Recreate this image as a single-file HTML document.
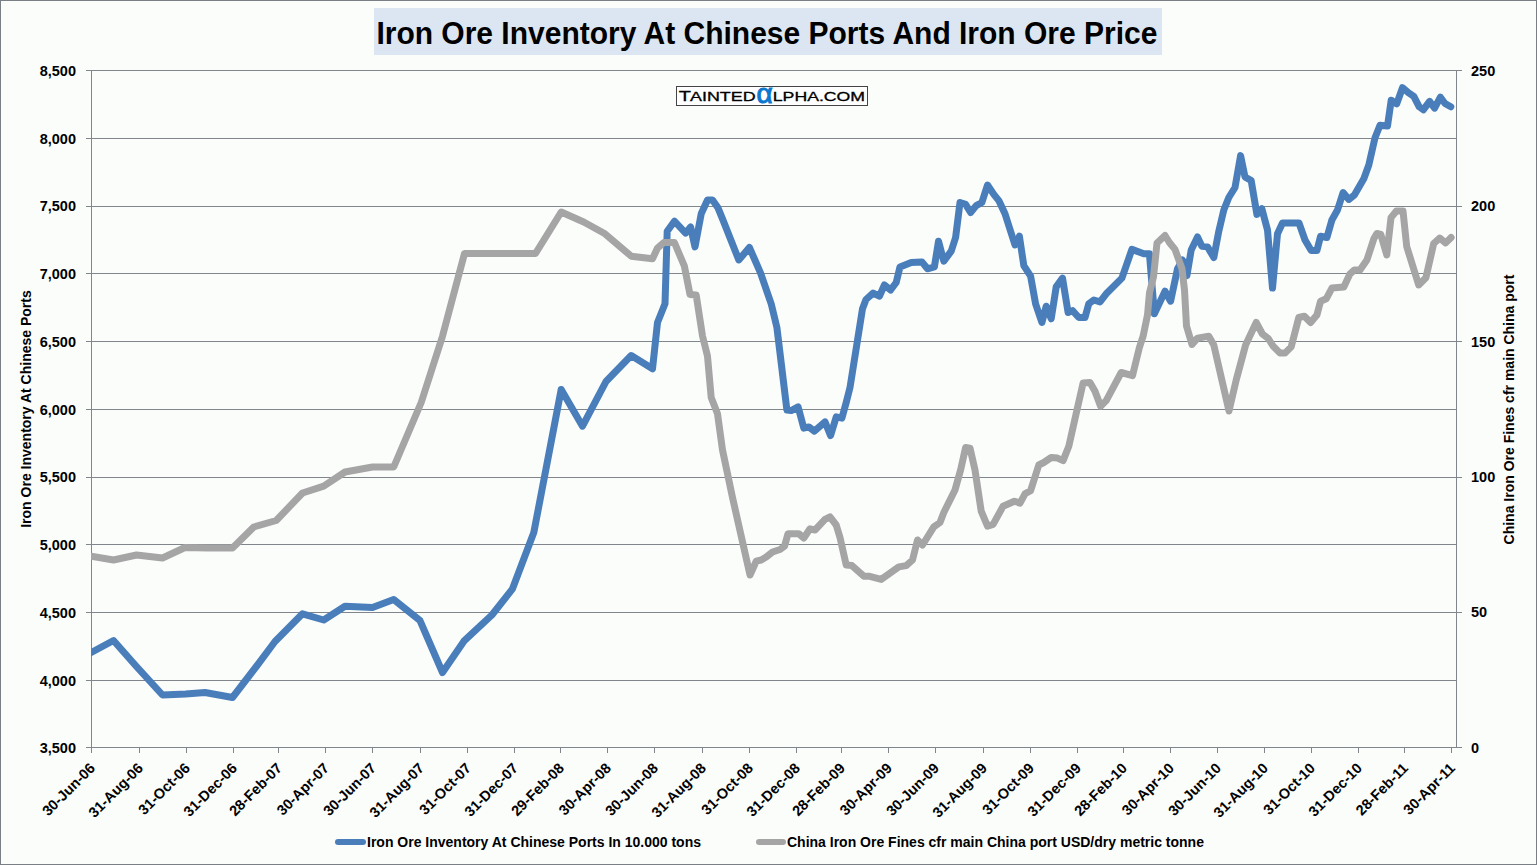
<!DOCTYPE html>
<html><head><meta charset="utf-8"><style>
html,body{margin:0;padding:0;background:#fbfdfb;}
body{width:1537px;height:865px;overflow:hidden;position:relative;}
svg{position:absolute;left:0;top:0;}
.t{font-family:"Liberation Sans",sans-serif;font-weight:bold;font-size:14px;fill:#000;}
.n{font-family:"Liberation Sans",sans-serif;font-weight:bold;font-size:14.5px;fill:#000;}
.title{font-family:"Liberation Sans",sans-serif;font-weight:bold;font-size:31px;fill:#000;}
.logo{font-family:"Liberation Sans",sans-serif;font-weight:normal;stroke:#000;stroke-width:0.3px;}
</style></head><body>
<svg width="1537" height="865" viewBox="0 0 1537 865">
<rect x="0.5" y="0.5" width="1536" height="864" fill="#fbfdfb" stroke="#7a7f86" stroke-width="1"/>
<line x1="86" y1="70.5" x2="1456" y2="70.5" stroke="#81868c" stroke-width="1"/>
<line x1="86" y1="138.5" x2="1456" y2="138.5" stroke="#81868c" stroke-width="1"/>
<line x1="86" y1="206.5" x2="1456" y2="206.5" stroke="#81868c" stroke-width="1"/>
<line x1="86" y1="273.5" x2="1456" y2="273.5" stroke="#81868c" stroke-width="1"/>
<line x1="86" y1="341.5" x2="1456" y2="341.5" stroke="#81868c" stroke-width="1"/>
<line x1="86" y1="409.5" x2="1456" y2="409.5" stroke="#81868c" stroke-width="1"/>
<line x1="86" y1="477.5" x2="1456" y2="477.5" stroke="#81868c" stroke-width="1"/>
<line x1="86" y1="544.5" x2="1456" y2="544.5" stroke="#81868c" stroke-width="1"/>
<line x1="86" y1="612.5" x2="1456" y2="612.5" stroke="#81868c" stroke-width="1"/>
<line x1="86" y1="680.5" x2="1456" y2="680.5" stroke="#81868c" stroke-width="1"/>
<line x1="91.5" y1="70" x2="91.5" y2="753" stroke="#81868c" stroke-width="1"/>
<line x1="86" y1="747.5" x2="1457" y2="747.5" stroke="#81868c" stroke-width="1"/>
<line x1="1456.5" y1="70" x2="1456.5" y2="748" stroke="#81868c" stroke-width="1"/>
<line x1="1456" y1="70.5" x2="1462" y2="70.5" stroke="#81868c" stroke-width="1"/>
<line x1="1456" y1="206.5" x2="1462" y2="206.5" stroke="#81868c" stroke-width="1"/>
<line x1="1456" y1="341.5" x2="1462" y2="341.5" stroke="#81868c" stroke-width="1"/>
<line x1="1456" y1="477.5" x2="1462" y2="477.5" stroke="#81868c" stroke-width="1"/>
<line x1="1456" y1="612.5" x2="1462" y2="612.5" stroke="#81868c" stroke-width="1"/>
<line x1="1456" y1="747.5" x2="1462" y2="747.5" stroke="#81868c" stroke-width="1"/>
<line x1="91.5" y1="747" x2="91.5" y2="753" stroke="#81868c" stroke-width="1"/>
<line x1="139.5" y1="747" x2="139.5" y2="753" stroke="#81868c" stroke-width="1"/>
<line x1="186.5" y1="747" x2="186.5" y2="753" stroke="#81868c" stroke-width="1"/>
<line x1="233.5" y1="747" x2="233.5" y2="753" stroke="#81868c" stroke-width="1"/>
<line x1="278.5" y1="747" x2="278.5" y2="753" stroke="#81868c" stroke-width="1"/>
<line x1="325.5" y1="747" x2="325.5" y2="753" stroke="#81868c" stroke-width="1"/>
<line x1="372.5" y1="747" x2="372.5" y2="753" stroke="#81868c" stroke-width="1"/>
<line x1="420.5" y1="747" x2="420.5" y2="753" stroke="#81868c" stroke-width="1"/>
<line x1="467.5" y1="747" x2="467.5" y2="753" stroke="#81868c" stroke-width="1"/>
<line x1="514.5" y1="747" x2="514.5" y2="753" stroke="#81868c" stroke-width="1"/>
<line x1="560.5" y1="747" x2="560.5" y2="753" stroke="#81868c" stroke-width="1"/>
<line x1="607.5" y1="747" x2="607.5" y2="753" stroke="#81868c" stroke-width="1"/>
<line x1="654.5" y1="747" x2="654.5" y2="753" stroke="#81868c" stroke-width="1"/>
<line x1="702.5" y1="747" x2="702.5" y2="753" stroke="#81868c" stroke-width="1"/>
<line x1="749.5" y1="747" x2="749.5" y2="753" stroke="#81868c" stroke-width="1"/>
<line x1="796.5" y1="747" x2="796.5" y2="753" stroke="#81868c" stroke-width="1"/>
<line x1="841.5" y1="747" x2="841.5" y2="753" stroke="#81868c" stroke-width="1"/>
<line x1="888.5" y1="747" x2="888.5" y2="753" stroke="#81868c" stroke-width="1"/>
<line x1="935.5" y1="747" x2="935.5" y2="753" stroke="#81868c" stroke-width="1"/>
<line x1="983.5" y1="747" x2="983.5" y2="753" stroke="#81868c" stroke-width="1"/>
<line x1="1030.5" y1="747" x2="1030.5" y2="753" stroke="#81868c" stroke-width="1"/>
<line x1="1077.5" y1="747" x2="1077.5" y2="753" stroke="#81868c" stroke-width="1"/>
<line x1="1123.5" y1="747" x2="1123.5" y2="753" stroke="#81868c" stroke-width="1"/>
<line x1="1170.5" y1="747" x2="1170.5" y2="753" stroke="#81868c" stroke-width="1"/>
<line x1="1217.5" y1="747" x2="1217.5" y2="753" stroke="#81868c" stroke-width="1"/>
<line x1="1264.5" y1="747" x2="1264.5" y2="753" stroke="#81868c" stroke-width="1"/>
<line x1="1311.5" y1="747" x2="1311.5" y2="753" stroke="#81868c" stroke-width="1"/>
<line x1="1358.5" y1="747" x2="1358.5" y2="753" stroke="#81868c" stroke-width="1"/>
<line x1="1404.5" y1="747" x2="1404.5" y2="753" stroke="#81868c" stroke-width="1"/>
<line x1="1451.5" y1="747" x2="1451.5" y2="753" stroke="#81868c" stroke-width="1"/>
<text x="76" y="76.00" text-anchor="end" class="n">8,500</text>
<text x="76" y="143.73" text-anchor="end" class="n">8,000</text>
<text x="76" y="211.46" text-anchor="end" class="n">7,500</text>
<text x="76" y="279.19" text-anchor="end" class="n">7,000</text>
<text x="76" y="346.92" text-anchor="end" class="n">6,500</text>
<text x="76" y="414.65" text-anchor="end" class="n">6,000</text>
<text x="76" y="482.38" text-anchor="end" class="n">5,500</text>
<text x="76" y="550.11" text-anchor="end" class="n">5,000</text>
<text x="76" y="617.84" text-anchor="end" class="n">4,500</text>
<text x="76" y="685.57" text-anchor="end" class="n">4,000</text>
<text x="76" y="753.30" text-anchor="end" class="n">3,500</text>
<text x="1471" y="76.00" class="n">250</text>
<text x="1471" y="211.30" class="n">200</text>
<text x="1471" y="346.60" class="n">150</text>
<text x="1471" y="481.90" class="n">100</text>
<text x="1471" y="617.20" class="n">50</text>
<text x="1471" y="752.50" class="n">0</text>
<text transform="translate(96.0,769) rotate(-45)" text-anchor="end" class="n">30-Jun-06</text>
<text transform="translate(144.0,769) rotate(-45)" text-anchor="end" class="n">31-Aug-06</text>
<text transform="translate(191.0,769) rotate(-45)" text-anchor="end" class="n">31-Oct-06</text>
<text transform="translate(238.0,769) rotate(-45)" text-anchor="end" class="n">31-Dec-06</text>
<text transform="translate(283.0,769) rotate(-45)" text-anchor="end" class="n">28-Feb-07</text>
<text transform="translate(330.0,769) rotate(-45)" text-anchor="end" class="n">30-Apr-07</text>
<text transform="translate(377.0,769) rotate(-45)" text-anchor="end" class="n">30-Jun-07</text>
<text transform="translate(425.0,769) rotate(-45)" text-anchor="end" class="n">31-Aug-07</text>
<text transform="translate(472.0,769) rotate(-45)" text-anchor="end" class="n">31-Oct-07</text>
<text transform="translate(519.0,769) rotate(-45)" text-anchor="end" class="n">31-Dec-07</text>
<text transform="translate(565.0,769) rotate(-45)" text-anchor="end" class="n">29-Feb-08</text>
<text transform="translate(612.0,769) rotate(-45)" text-anchor="end" class="n">30-Apr-08</text>
<text transform="translate(659.0,769) rotate(-45)" text-anchor="end" class="n">30-Jun-08</text>
<text transform="translate(707.0,769) rotate(-45)" text-anchor="end" class="n">31-Aug-08</text>
<text transform="translate(754.0,769) rotate(-45)" text-anchor="end" class="n">31-Oct-08</text>
<text transform="translate(801.0,769) rotate(-45)" text-anchor="end" class="n">31-Dec-08</text>
<text transform="translate(846.0,769) rotate(-45)" text-anchor="end" class="n">28-Feb-09</text>
<text transform="translate(893.0,769) rotate(-45)" text-anchor="end" class="n">30-Apr-09</text>
<text transform="translate(940.0,769) rotate(-45)" text-anchor="end" class="n">30-Jun-09</text>
<text transform="translate(988.0,769) rotate(-45)" text-anchor="end" class="n">31-Aug-09</text>
<text transform="translate(1035.0,769) rotate(-45)" text-anchor="end" class="n">31-Oct-09</text>
<text transform="translate(1082.0,769) rotate(-45)" text-anchor="end" class="n">31-Dec-09</text>
<text transform="translate(1128.0,769) rotate(-45)" text-anchor="end" class="n">28-Feb-10</text>
<text transform="translate(1175.0,769) rotate(-45)" text-anchor="end" class="n">30-Apr-10</text>
<text transform="translate(1222.0,769) rotate(-45)" text-anchor="end" class="n">30-Jun-10</text>
<text transform="translate(1269.0,769) rotate(-45)" text-anchor="end" class="n">31-Aug-10</text>
<text transform="translate(1316.0,769) rotate(-45)" text-anchor="end" class="n">31-Oct-10</text>
<text transform="translate(1363.0,769) rotate(-45)" text-anchor="end" class="n">31-Dec-10</text>
<text transform="translate(1409.0,769) rotate(-45)" text-anchor="end" class="n">28-Feb-11</text>
<text transform="translate(1456.0,769) rotate(-45)" text-anchor="end" class="n">30-Apr-11</text>
<text transform="translate(31,409) rotate(-90)" text-anchor="middle" class="t">Iron Ore Inventory At Chinese Ports</text>
<text transform="translate(1514,409.5) rotate(-90)" text-anchor="middle" class="t">China Iron Ore Fines cfr main China port</text>
<defs><clipPath id="pc"><rect x="91" y="0" width="1370" height="865"/></clipPath></defs>
<path clip-path="url(#pc)" d="M91.2,652.5 L113.5,640.5 L136.0,666.0 L162.5,695.0 L185.5,694.0 L205.0,692.5 L232.5,697.5 L256.7,666.0 L275.0,641.5 L302.5,613.8 L323.7,620.0 L345.0,606.2 L372.5,607.5 L393.7,599.5 L420.0,620.6 L442.5,672.5 L464.4,640.6 L491.9,615.0 L512.5,588.8 L533.8,532.5 L561.2,389.5 L582.5,426.2 L606.2,381.2 L631.2,355.5 L652.5,368.8 L657.5,322.5 L665.0,303.8 L667.2,231.2 L674.4,221.2 L685.6,233.1 L690.6,226.9 L695.0,246.9 L701.2,213.8 L707.5,200.0 L712.5,200.0 L718.1,208.1 L722.5,218.8 L738.8,260.0 L749.4,247.5 L753.8,257.5 L760.6,273.1 L771.2,303.8 L776.9,327.5 L786.9,410.0 L791.2,410.6 L798.1,406.9 L803.8,428.1 L808.8,426.9 L814.4,431.2 L825.0,421.9 L830.6,435.6 L836.2,416.9 L841.9,418.1 L846.2,402.5 L850.0,387.5 L862.5,308.8 L866.0,299.5 L873.1,293.1 L879.4,296.2 L884.4,285.0 L890.6,290.0 L896.2,282.5 L900.0,266.9 L911.2,262.5 L921.9,261.9 L927.5,268.8 L934.4,266.9 L938.5,241.2 L943.8,261.2 L951.2,251.2 L955.6,237.5 L960.0,202.5 L965.6,204.4 L970.6,212.5 L976.2,205.6 L981.9,202.5 L987.5,185.0 L993.8,194.4 L998.8,200.6 L1005.0,213.8 L1015.0,245.0 L1019.4,236.2 L1023.8,265.6 L1030.6,276.2 L1035.6,303.8 L1041.9,322.5 L1046.2,306.2 L1051.2,318.8 L1056.2,286.9 L1062.5,278.1 L1068.1,312.5 L1072.5,310.6 L1078.8,317.5 L1085.0,317.5 L1088.8,303.8 L1093.8,300.0 L1100.0,301.9 L1106.2,293.8 L1121.9,278.1 L1131.9,249.4 L1143.8,253.8 L1149.4,253.8 L1154.4,313.8 L1165.0,291.2 L1170.6,301.2 L1177.5,268.8 L1182.5,260.0 L1186.9,275.6 L1191.2,250.0 L1197.5,236.9 L1201.9,246.2 L1207.5,246.9 L1213.8,257.5 L1218.8,231.2 L1223.8,210.0 L1228.8,197.5 L1235.0,187.5 L1240.6,155.6 L1245.0,176.9 L1251.2,180.6 L1256.9,214.4 L1261.9,208.8 L1267.5,230.0 L1272.5,288.1 L1277.5,233.8 L1282.5,223.0 L1299.0,223.0 L1305.0,240.0 L1311.2,250.6 L1316.9,250.6 L1320.6,236.2 L1326.9,237.5 L1331.9,220.0 L1337.5,210.0 L1343.1,192.5 L1348.8,199.4 L1354.4,195.0 L1363.8,178.8 L1368.8,165.0 L1375.0,137.7 L1380.0,125.2 L1387.5,126.0 L1391.2,100.2 L1396.7,103.9 L1402.5,87.7 L1408.3,92.7 L1413.8,96.4 L1419.2,106.8 L1423.3,109.8 L1429.6,101.4 L1434.6,108.1 L1440.4,97.2 L1445.0,103.5 L1450.8,106.8" fill="none" stroke="#4a7ebb" stroke-width="7" stroke-linejoin="round" stroke-linecap="round"/>
<path clip-path="url(#pc)" d="M91.2,556.2 L113.5,560.0 L136.5,555.0 L162.5,558.0 L185.0,547.5 L207.5,548.0 L232.5,548.0 L253.7,527.0 L276.2,520.5 L302.5,493.0 L323.7,486.2 L345.0,472.0 L372.5,467.0 L393.7,467.0 L421.2,402.5 L442.5,336.2 L464.5,253.5 L535.5,253.5 L561.2,212.0 L583.7,222.0 L605.0,233.8 L631.2,256.2 L652.5,258.8 L657.5,248.1 L663.8,242.5 L674.4,242.5 L684.4,266.2 L690.0,294.5 L696.2,295.0 L702.5,336.0 L707.5,356.2 L711.2,397.5 L717.5,413.8 L722.5,450.0 L732.5,497.5 L750.0,575.0 L756.2,561.2 L761.2,560.0 L766.2,557.0 L772.5,552.0 L780.0,549.5 L784.5,546.2 L788.0,533.8 L798.8,533.8 L803.8,538.0 L810.0,528.8 L815.0,530.0 L825.0,519.4 L830.0,516.9 L836.2,525.0 L840.0,537.5 L846.2,565.0 L851.9,565.6 L863.8,576.2 L868.8,576.2 L881.2,579.4 L898.8,566.9 L906.2,565.6 L912.5,560.0 L917.5,540.0 L922.5,545.0 L933.8,526.9 L940.0,522.5 L943.8,512.5 L955.0,490.0 L960.6,470.0 L965.6,447.5 L970.0,448.1 L975.0,470.0 L981.2,511.2 L987.5,526.2 L993.1,524.4 L1003.1,506.2 L1014.4,501.2 L1020.0,503.1 L1025.0,493.8 L1030.6,490.6 L1038.8,465.0 L1043.8,462.5 L1051.2,457.5 L1057.5,458.1 L1063.1,460.6 L1068.8,446.2 L1075.0,418.8 L1083.1,383.1 L1090.0,382.5 L1095.0,391.2 L1100.6,406.2 L1106.2,400.6 L1121.2,372.5 L1132.5,375.6 L1139.4,347.5 L1143.1,336.2 L1147.5,315.0 L1149.5,292.5 L1153.5,277.0 L1157.0,243.0 L1165.0,235.5 L1169.4,242.5 L1175.0,249.4 L1182.0,268.8 L1184.5,290.0 L1186.5,326.0 L1192.0,344.4 L1197.5,338.1 L1208.8,336.2 L1213.8,345.0 L1229.0,411.0 L1236.2,380.0 L1245.6,345.0 L1256.2,322.5 L1262.4,334.0 L1268.3,338.5 L1273.0,346.0 L1280.0,353.1 L1285.0,353.1 L1291.2,346.9 L1298.8,317.5 L1304.4,316.2 L1310.6,322.5 L1316.9,315.0 L1320.6,301.2 L1326.2,298.8 L1331.9,288.1 L1343.8,286.9 L1350.0,273.8 L1354.4,270.0 L1360.0,270.0 L1366.9,260.0 L1373.8,238.8 L1376.9,233.5 L1380.8,234.5 L1386.8,254.9 L1391.0,217.6 L1396.4,211.0 L1403.0,211.0 L1406.7,246.5 L1418.7,285.0 L1425.9,277.8 L1433.7,243.5 L1439.7,238.1 L1445.7,242.9 L1451.1,237.5" fill="none" stroke="#a5a5a5" stroke-width="7" stroke-linejoin="round" stroke-linecap="round"/>
<line x1="338" y1="842" x2="363" y2="842" stroke="#4a7ebb" stroke-width="6" stroke-linecap="round"/>
<text x="367" y="847" class="t">Iron Ore Inventory At Chinese Ports In 10.000 tons</text>
<line x1="759" y1="842" x2="783" y2="842" stroke="#a5a5a5" stroke-width="6" stroke-linecap="round"/>
<text x="787" y="847" class="t">China Iron Ore Fines cfr main China port USD/dry metric tonne</text>
<rect x="374" y="8" width="788" height="47" fill="#dce6f2"/>
<text x="376.4" y="44" class="title" textLength="781" lengthAdjust="spacingAndGlyphs">Iron Ore Inventory At Chinese Ports And Iron Ore Price</text>
<rect x="676.5" y="86.5" width="191" height="19" fill="#ffffff" stroke="#444" stroke-width="1"/>
<text x="678.8" y="101" class="logo" font-size="14.8" textLength="12.2" lengthAdjust="spacingAndGlyphs">T</text>
<text x="690" y="101" class="logo" font-size="12.3" textLength="65.6" lengthAdjust="spacingAndGlyphs">AINTED</text>
<text x="756.4" y="103" class="logo" font-size="28" fill="#0a78d0" style="stroke:#0a78d0;stroke-width:1px" textLength="16.2" lengthAdjust="spacingAndGlyphs">α</text>
<text x="772.8" y="101" class="logo" font-size="12.3" textLength="92.3" lengthAdjust="spacingAndGlyphs">LPHA.COM</text>
</svg>
</body></html>
